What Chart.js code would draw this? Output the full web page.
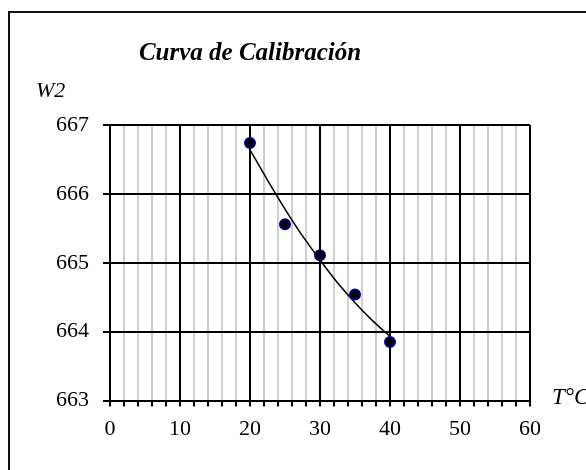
<!DOCTYPE html>
<html>
<head>
<meta charset="utf-8">
<script src="https://cdn.jsdelivr.net/npm/chart.js@4.4.0/dist/chart.umd.min.js"></script>
<style>
  html, body { margin: 0; padding: 0; background: #fff; overflow: hidden; }
  #frame {
    position: absolute; left: 8px; top: 11px;
    width: 700px; height: 600px;
    border: 2px solid #111;
  }
  #wrap { position: absolute; left: 0; top: 0; width: 586px; height: 470px; }
</style>
</head>
<body>
<div id="frame"></div>
<div id="wrap"><canvas id="calChart" width="586" height="470"></canvas></div>
<script>
// Temperatura (°C) y lecturas W2
const temps = [20, 25, 30, 35, 40];
const w2Values = [666.74, 665.56, 665.11, 664.54, 663.85];

// Línea de tendencia
const trendTemps = [20, 22.5, 25, 27.5, 30, 32.5, 35, 37.5, 40];
const trendValues = [666.64, 666.20, 665.78, 665.39, 665.04, 664.71, 664.42, 664.16, 663.93];

const xMin = 0, xMax = 60, xStep = 2, xLabelStep = 10;
const yMin = 663, yMax = 667, yStep = 1;

const serif = '"Liberation Serif", "Times New Roman", serif';

const labelsPlugin = {
    id: 'chartLabels',
    afterDraw(chart) {
        const ctx = chart.ctx;
        ctx.save();
        ctx.fillStyle = '#000';
        ctx.textBaseline = 'alphabetic';
        ctx.textAlign = 'center';
        ctx.font = 'italic bold 25px ' + serif;
        ctx.fillText('Curva de Calibración', 250, 60);
        ctx.textAlign = 'left';
        ctx.font = 'italic 22px ' + serif;
        ctx.fillText('W2', 36, 97);
        ctx.font = 'italic 23px ' + serif;
        ctx.fillText('T°C', 552, 404);
        ctx.restore();
    }
};

const ctx = document.getElementById('calChart').getContext('2d');
const myChart = new Chart(ctx, {
    type: 'scatter',
    data: {
        datasets: [
            {
                label: 'Tendencia',
                data: trendTemps.map((t, i) => ({ x: t, y: trendValues[i] })),
                showLine: true,
                borderColor: '#000',
                borderWidth: 1.5,
                pointRadius: 0,
                cubicInterpolationMode: 'monotone',
                order: 2
            },
            {
                label: 'W2',
                data: temps.map((t, i) => ({ x: t, y: w2Values[i] })),
                showLine: false,
                pointRadius: 5,
                pointBackgroundColor: '#000',
                pointBorderColor: '#000080',
                pointBorderWidth: 2,
                order: 1
            }
        ]
    },
    options: {
        responsive: false,
        animation: false,
        layout: { padding: { left: 0, top: 125, right: 56, bottom: 0 } },
        plugins: {
            legend: { display: false },
            tooltip: { enabled: false }
        },
        scales: {
            x: {
                type: 'linear',
                min: xMin, max: xMax,
                afterFit(scale) { scale.height = 69.5; },
                ticks: {
                    stepSize: xStep,
                    autoSkip: false,
                    maxRotation: 0,
                    padding: 10,
                    color: '#000',
                    font: { family: serif, size: 22 },
                    callback: v => (v % xLabelStep === 0 ? String(v) : '')
                },
                grid: {
                    color: c => (c.tick && c.tick.value % xLabelStep === 0 ? '#000' : '#cfcfcf'),
                    lineWidth: 2,
                    tickColor: '#000',
                    tickLength: 6,
                    tickWidth: 2
                },
                border: { color: '#000', width: 2 }
            },
            y: {
                type: 'linear',
                min: yMin, max: yMax,
                afterFit(scale) { scale.width = 110; },
                ticks: {
                    stepSize: yStep,
                    padding: 14,
                    color: '#000',
                    font: { family: serif, size: 22 }
                },
                grid: {
                    color: '#000',
                    lineWidth: 2,
                    tickColor: '#000',
                    tickLength: 7,
                    tickWidth: 2
                },
                border: { color: '#000', width: 2 }
            }
        }
    },
    plugins: [labelsPlugin]
});
</script>
</body>
</html>
